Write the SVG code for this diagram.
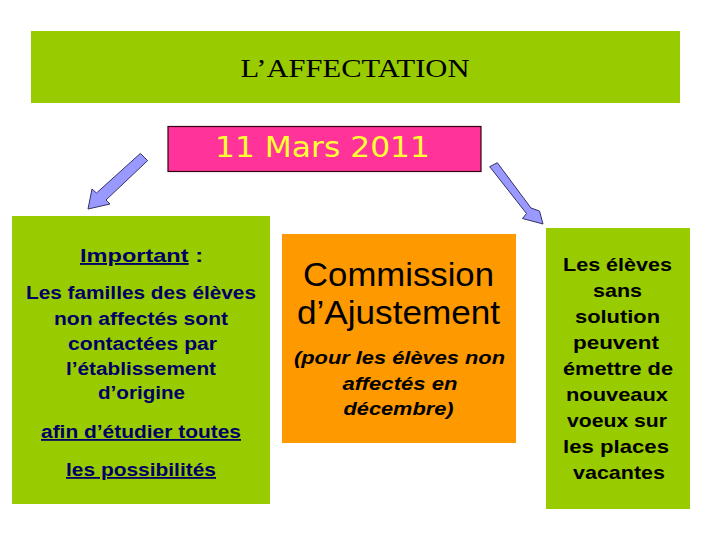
<svg xmlns="http://www.w3.org/2000/svg" width="720" height="540" viewBox="0 0 720 540">
<style>
.green{fill:#99CC00}
.arrow{fill:#9999FF;stroke:#333366;stroke-width:1}
.sans{font-family:"Liberation Sans",Arial,sans-serif;text-anchor:middle}
.navy{fill:#000066;font-weight:bold;font-size:18px}
.blk{fill:#000;font-weight:bold;font-size:19px}
.it{fill:#000;font-weight:bold;font-style:italic;font-size:19px}
.big{fill:#000;font-size:33px}
</style>
<rect width="720" height="540" fill="#fff"/>
<g id="title">
<rect class="green" x="31" y="31" width="649" height="72"/>
<text x="355" y="77" font-family="'Liberation Serif','Times New Roman',serif" font-size="26" text-anchor="middle" fill="#000" textLength="229" lengthAdjust="spacingAndGlyphs">L’AFFECTATION</text>
</g>
<g id="date">
<rect x="168" y="126.5" width="313" height="45" fill="#FF3399" stroke="#330011" stroke-width="1.2"/>
<text x="322.5" y="157" font-family="'DejaVu Sans',sans-serif" font-size="28" text-anchor="middle" fill="#FFFF33" textLength="215" lengthAdjust="spacingAndGlyphs">11 Mars 2011</text>
</g>
<g id="connectors">
<polygon class="arrow" points="140.4,153.4 147.6,160.6 106,200 110,204 88,209 92,189 96.5,193"/>
<polygon class="arrow" points="489.7,166.7 497.3,162.7 531,208 539.5,211 543,224 522.5,218.5 526.5,213.5"/>
</g>
<g id="important">
<rect class="green" x="12" y="216" width="258" height="288"/>
<text class="sans navy" x="141.5" y="262" style="font-size:19px" textLength="123" lengthAdjust="spacingAndGlyphs"><tspan text-decoration="underline">Important</tspan> :</text>
<text class="sans navy" x="141" y="299" textLength="230" lengthAdjust="spacingAndGlyphs">Les familles des élèves</text>
<text class="sans navy" x="141" y="325" textLength="174" lengthAdjust="spacingAndGlyphs">non affectés sont</text>
<text class="sans navy" x="142.5" y="350" textLength="149" lengthAdjust="spacingAndGlyphs">contactées par</text>
<text class="sans navy" x="141" y="375" textLength="150" lengthAdjust="spacingAndGlyphs">l’établissement</text>
<text class="sans navy" x="141.5" y="399" textLength="87" lengthAdjust="spacingAndGlyphs">d’origine</text>
<text class="sans navy" x="141" y="438" text-decoration="underline" textLength="200" lengthAdjust="spacingAndGlyphs">afin d’étudier toutes</text>
<text class="sans navy" x="141" y="476" text-decoration="underline" textLength="150" lengthAdjust="spacingAndGlyphs">les possibilités</text>
</g>
<g id="commission">
<rect x="282" y="234" width="234" height="209" fill="#FF9900"/>
<text class="sans big" x="398.5" y="286" textLength="191" lengthAdjust="spacingAndGlyphs">Commission</text>
<text class="sans big" x="398.5" y="324" textLength="203" lengthAdjust="spacingAndGlyphs">d’Ajustement</text>
<text class="sans it" x="399.5" y="364" textLength="211" lengthAdjust="spacingAndGlyphs">(pour les élèves non</text>
<text class="sans it" x="400" y="390" textLength="115" lengthAdjust="spacingAndGlyphs">affectés en</text>
<text class="sans it" x="398.5" y="415" textLength="110" lengthAdjust="spacingAndGlyphs">décembre)</text>
</g>
<g id="eleves">
<rect class="green" x="546" y="228" width="144" height="281"/>
<text class="sans blk" x="617.5" y="271" textLength="109" lengthAdjust="spacingAndGlyphs">Les élèves</text>
<text class="sans blk" x="617.5" y="297" textLength="49" lengthAdjust="spacingAndGlyphs">sans</text>
<text class="sans blk" x="617.5" y="323" textLength="85" lengthAdjust="spacingAndGlyphs">solution</text>
<text class="sans blk" x="616" y="349" textLength="86" lengthAdjust="spacingAndGlyphs">peuvent</text>
<text class="sans blk" x="618" y="375" textLength="110" lengthAdjust="spacingAndGlyphs">émettre de</text>
<text class="sans blk" x="617" y="401" textLength="102" lengthAdjust="spacingAndGlyphs">nouveaux</text>
<text class="sans blk" x="617" y="427" textLength="100" lengthAdjust="spacingAndGlyphs">voeux sur</text>
<text class="sans blk" x="616" y="453" textLength="106" lengthAdjust="spacingAndGlyphs">les places</text>
<text class="sans blk" x="619" y="479" textLength="92" lengthAdjust="spacingAndGlyphs">vacantes</text>
</g>
</svg>
